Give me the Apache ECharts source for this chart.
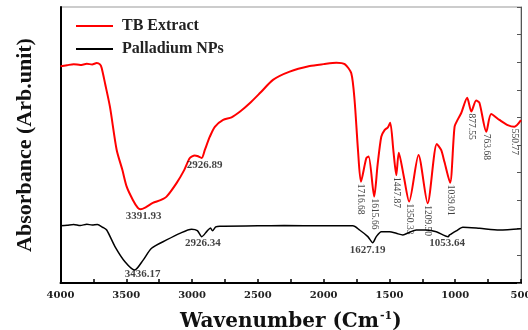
<!DOCTYPE html>
<html>
<head>
<meta charset="utf-8">
<script src="https://cdn.jsdelivr.net/npm/echarts@6/dist/echarts.min.js"></script>
<style>
  html, body { margin: 0; background: #fff; }
  #chart { width: 528px; height: 330px; }
</style>
</head>
<body>
<div id="chart"></div>
<script>
// FTIR spectra, wavenumber (cm-1) vs absorbance (arb. units, 0-100)
const redWn = [4000, 3950, 3900, 3850, 3800, 3760, 3725, 3700, 3687, 3660, 3624, 3573, 3530, 3497, 3450, 3412, 3391.93, 3350, 3298, 3240, 3194, 3118, 3060, 3017, 2980, 2960, 2926.89, 2903, 2865, 2827, 2764, 2700, 2630, 2562, 2480, 2385, 2258, 2106, 2000, 1903, 1840, 1790, 1765, 1739, 1716.68, 1676, 1658, 1615.66, 1590, 1562, 1537, 1512, 1494, 1470, 1447.87, 1429, 1390, 1350.33, 1279, 1209.5, 1140, 1107, 1082, 1039.01, 1005, 980, 955, 909, 877.55, 841, 816, 763.68, 727, 664, 601, 550.77, 500]
const redAbs = [78.5, 78.9, 79.3, 79.0, 79.4, 79.2, 79.7, 79.2, 77.9, 72.0, 63.8, 48.2, 41.0, 34.9, 30.1, 27.2, 26.7, 27.5, 29.0, 30.0, 31.3, 36.2, 40.9, 45.3, 46.2, 46.0, 45.3, 48.2, 53.0, 56.6, 59.1, 60.0, 62.3, 65.1, 69.0, 73.6, 76.6, 78.6, 79.3, 79.8, 79.3, 76.0, 66.3, 48.2, 36.7, 45.2, 45.8, 31.3, 42.8, 53.0, 55.4, 56.4, 58.1, 48.0, 39.1, 47.2, 38.4, 29.5, 46.4, 28.9, 50.4, 48.2, 43.9, 36.3, 56.6, 59.3, 61.5, 67.1, 62.1, 66.1, 65.3, 54.8, 61.2, 59.1, 57.2, 56.6, 59.0]

const blackWn = [4000, 3950, 3900, 3850, 3800, 3760, 3720, 3680, 3649, 3586, 3510, 3436.17, 3372, 3308, 3194, 3093, 3004, 2960, 2926.34, 2886, 2860, 2845, 2820, 2789, 2500, 2300, 2000, 1778, 1727, 1664, 1627.19, 1600, 1562, 1499, 1448, 1398, 1347, 1296, 1220, 1144, 1053.64, 1043, 992, 942, 815, 664, 500]
const blackAbs = [20.7, 20.9, 21.2, 20.8, 21.3, 21.0, 21.2, 20.2, 19.2, 13.2, 7.7, 4.7, 8.3, 12.6, 15.6, 18.0, 19.5, 19.0, 16.8, 18.8, 19.9, 18.9, 20.3, 20.6, 20.7, 20.8, 20.7, 20.7, 19.2, 16.8, 14.6, 16.8, 18.6, 18.6, 18.0, 17.4, 18.4, 19.2, 19.2, 18.6, 16.8, 17.4, 18.9, 20.2, 19.8, 19.2, 19.7]

const redPeaks = [3391.93, 2926.89, 1716.68, 1615.66, 1447.87, 1350.33, 1209.5, 1039.01, 877.55, 763.68, 550.77]
const blackPeaks = [3436.17, 2926.34, 1627.19, 1053.64]
const seriesNames = ['TB Extract', 'Palladium NPs']

// which labels are written vertically and small nudges
const verticalPeaks = [1716.68, 1615.66, 1447.87, 1350.33, 1209.5, 1039.01, 877.55, 763.68, 550.77]
const labelShift = { 3391.93: [3, 0], 2926.89: [3, 0], 3436.17: [8, -3], 2926.34: [1, 0], 1627.19: [-5, 0], 1053.64: [-1, 0] }

const serif = '"Liberation Serif", "Times New Roman", serif'

const peakPoints = (peaks, wn, abs) => peaks.map(p => {
  const i = wn.indexOf(p)
  const vertical = verticalPeaks.includes(p)
  const label = vertical
    ? { position: 'inside', align: 'left', verticalAlign: 'middle', rotate: -90, padding: [0, 0, 0, 2], fontSize: 9.5, fontWeight: 'normal' }
    : { position: 'bottom', distance: 1, offset: labelShift[p] || [0, 0], fontSize: 11, fontWeight: 'bold' }
  return { value: [p, abs[i]], label }
})

const myChart = echarts.init(document.getElementById('chart'))

const option = {
  animation: false,
  grid: {
    left: 60.5,
    right: 7,
    top: 7,
    bottom: 47,
    outerBoundsMode: 'none',
    show: true,
    borderColor: '#999',
    borderWidth: 1
  },
  legend: {
    data: seriesNames,
    icon: 'rect',
    orient: 'vertical',
    left: 71,
    top: 13,
    itemWidth: 37,
    itemHeight: 2,
    itemGap: 7,
    textStyle: {
      fontFamily: serif,
      fontWeight: 'bold',
      fontSize: 16,
      color: '#222',
      padding: [0, 0, 0, 4]
    }
  },
  xAxis: {
    type: 'value',
    inverse: true,
    min: 500,
    max: 4000,
    interval: 500,
    name: '{a|Wavenumber (Cm}{s|-1}{a|)}',
    nameLocation: 'middle',
    nameGap: 28,
    nameTextStyle: {
      rich: {
        a: { fontFamily: '"DejaVu Serif", serif', fontWeight: 'bold', fontSize: 20, color: '#111' },
        s: { fontFamily: '"DejaVu Serif", serif', fontWeight: 'bold', fontSize: 11, color: '#111', verticalAlign: 'top', padding: [0, 0, 10, 1] }
      }
    },
    axisLine: { lineStyle: { color: '#000', width: 2 } },
    axisTick: { inside: true, length: 4, lineStyle: { color: '#000', width: 1.5 } },
    minorTick: { show: true, splitNumber: 2, length: 4, lineStyle: { color: '#000', width: 1.5 } },
    splitLine: { show: false },
    axisLabel: {
      margin: 7,
      formatter: v => String(v),
      fontFamily: '"DejaVu Serif", serif',
      fontWeight: 'bold',
      fontSize: 10,
      color: '#222'
    }
  },
  yAxis: [
    {
      type: 'value',
      min: 0,
      max: 100,
      interval: 10,
      name: 'Absorbance (Arb.unit)',
      nameLocation: 'middle',
      nameGap: 24,
      nameTextStyle: { fontFamily: serif, fontWeight: 'bold', fontSize: 22, color: '#111' },
      axisLine: { show: true, lineStyle: { color: '#000', width: 2 } },
      axisTick: { show: false },
      axisLabel: { show: false },
      splitLine: { show: false }
    },
    {
      type: 'value',
      position: 'right',
      min: 0,
      max: 100,
      interval: 10,
      axisLine: { show: true, lineStyle: { color: '#555', width: 1 } },
      axisTick: { show: true, inside: true, length: 4, lineStyle: { color: '#555' } },
      axisLabel: { show: false },
      splitLine: { show: false }
    }
  ],
  series: [
    {
      name: seriesNames[0],
      type: 'line',
      symbol: 'none',
      smooth: 0.25,
      lineStyle: { color: '#ff0000', width: 2 },
      itemStyle: { color: '#ff0000' },
      data: redWn.map((w, i) => [w, redAbs[i]]),
      z: 3
    },
    {
      name: seriesNames[1],
      type: 'line',
      symbol: 'none',
      smooth: 0.25,
      lineStyle: { color: '#000', width: 1.5 },
      itemStyle: { color: '#000' },
      data: blackWn.map((w, i) => [w, blackAbs[i]]),
      z: 3
    },
    {
      type: 'scatter',
      symbolSize: 1,
      itemStyle: { color: 'transparent' },
      label: {
        show: true,
        fontFamily: serif,
        color: '#111',
        formatter: p => p.value[0].toFixed(2)
      },
      data: peakPoints(redPeaks, redWn, redAbs).concat(peakPoints(blackPeaks, blackWn, blackAbs)),
      z: 4
    }
  ]
}

myChart.setOption(option)
</script>
</body>
</html>
